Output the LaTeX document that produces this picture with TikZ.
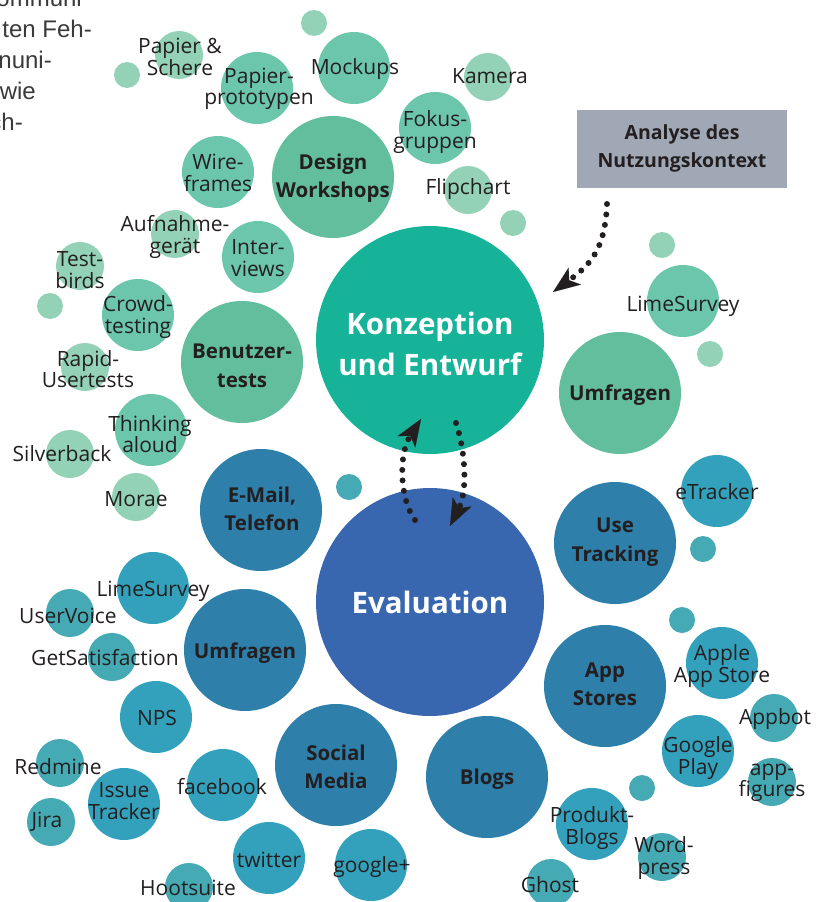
\documentclass[tikz,border=0pt]{standalone}
\usepackage{fontspec}
\setmainfont{Open Sans}
\newfontfamily\parafont{Liberation Sans}
\usetikzlibrary{arrows.meta}
\definecolor{konz}{HTML}{16B399}
\definecolor{evalc}{HTML}{3867B0}
\definecolor{gcat}{HTML}{63BE9E}
\definecolor{gmed}{HTML}{6CC6AB}
\definecolor{glight}{HTML}{93D2B6}
\definecolor{bcat}{HTML}{2E7FAA}
\definecolor{bmed}{HTML}{33A1BC}
\definecolor{blight}{HTML}{45AAB3}
\definecolor{boxgray}{HTML}{A1A8B5}
\definecolor{ink}{HTML}{231F20}
\definecolor{paragray}{HTML}{3A3A3A}
\begin{document}
\begin{tikzpicture}[x=1pt,y=-1pt,
  bub/.style={circle,inner sep=0pt,draw=none},
  catb/.style={bub,minimum size=122pt},
  medb/.style={bub,minimum size=72pt},
  smlb/.style={bub,minimum size=48pt},
  tinyb/.style={bub,minimum size=26pt},
  lbl/.style={text=ink,font=\fontsize{21}{21.5}\selectfont,align=center,inner sep=0pt},
  blbl/.style={text=ink,font=\fontsize{20.5}{28.5}\selectfont\bfseries,align=center,inner sep=0pt},
  mainlbl/.style={text=white,font=\fontsize{29.5}{41}\selectfont\bfseries,align=center,inner sep=0pt},
  para/.style={text=paragray,font=\parafont\fontsize{24}{24}\selectfont,anchor=base east,inner sep=0pt},
  dotline/.style={draw=ink,line width=6pt,line cap=round,dash pattern=on 0pt off 10.5pt},
  tipend/.style={-{Stealth[length=27pt,width=21pt,inset=7pt,line width=0.1pt,fill=ink,color=ink]}}
]
\useasboundingbox (0,0) rectangle (819,902);
\clip (0,0) rectangle (819,902);

% paragraph fragment
\node[para] (p1) at (82,6) {ommuni};
\node[para] (p2) at (92,37) {ten Feh-};
\node[para] (p3) at (52,68) {nuni-};
\node[para] (p4) at (36,99) {wie};
\node[para] (p5) at (23,130) {ch-};

% main circles
\node[bub,fill=konz,minimum size=228pt] (konz) at (430,340) {};
\node[mainlbl] (konzT) at (430,344) {Konzeption\\und Entwurf};
\node[bub,fill=evalc,minimum size=228pt] (eval) at (430,602) {};
\node[mainlbl] (evalT) at (430,602) {Evaluation};

% analysis box
\node[fill=boxgray,minimum width=210pt,minimum height=78pt,inner sep=0pt] (box) at (682,149) {};
\node[blbl,font=\fontsize{19.5}{28}\selectfont\bfseries] (boxT) at (682,148) {Analyse des\\Nutzungskontext};

% green: design workshops cluster
\node[tinyb,fill=glight] (g1) at (314,23) {};
\node[smlb,fill=glight] (papsch) at (179,55) {};
\node[lbl] (papschT) at (180,57) {Papier \&\\Schere};
\node[tinyb,fill=glight] (g2) at (127,75) {};
\node[medb,fill=gmed] (papp) at (257,88) {};
\node[lbl] (pappT) at (259,89) {Papier-\\prototypen};
\node[medb,fill=gmed] (mock) at (354,68) {};
\node[lbl] (mockT) at (355,69) {Mockups};
\node[smlb,fill=glight] (kam) at (488,77) {};
\node[lbl] (kamT) at (490,76) {Kamera};
\node[medb,fill=gmed] (fok) at (435,128) {};
\node[lbl] (fokT) at (435,132) {Fokus-\\gruppen};
\node[medb,fill=gmed] (wire) at (218,172) {};
\node[lbl] (wireT) at (218,173) {Wire-\\frames};
\node[catb,fill=gcat] (dw) at (333,177) {};
\node[blbl] (dwT) at (333,178) {Design\\Workshops};
\node[smlb,fill=glight] (flip) at (468,190) {};
\node[lbl] (flipT) at (468,189) {Flipchart};
\node[tinyb,fill=glight] (g3) at (513,223) {};

% green: benutzertests cluster
\node[smlb,fill=glight] (aufn) at (175,234) {};
\node[lbl] (aufnT) at (175,237) {Aufnahme-\\gerät};
\node[medb,fill=gmed] (intv) at (258,257) {};
\node[lbl] (intvT) at (258,258) {Inter-\\views};
\node[smlb,fill=glight] (tbird) at (80,266) {};
\node[lbl] (tbirdT) at (80,270) {Test-\\birds};
\node[tinyb,fill=glight] (g4) at (50,306) {};
\node[medb,fill=gmed] (crowd) at (138,315) {};
\node[lbl] (crowdT) at (138,317) {Crowd-\\testing};
\node[catb,fill=gcat] (bt) at (242,362) {};
\node[blbl] (btT) at (242,366) {Benutzer-\\tests};
\node[smlb,fill=glight] (rapid) at (85,367) {};
\node[lbl] (rapidT) at (88,369) {Rapid-\\Usertests};
\node[medb,fill=gmed] (think) at (151,430) {};
\node[lbl] (thinkT) at (150,434) {Thinking\\aloud};
\node[smlb,fill=glight] (silv) at (70,454) {};
\node[lbl] (silvT) at (62,454) {Silverback};
\node[smlb,fill=glight] (morae) at (136,497) {};
\node[lbl] (moraeT) at (136,499) {Morae};

% green: umfragen cluster (right)
\node[tinyb,fill=glight] (g5) at (662,245) {};
\node[medb,fill=gmed] (lime1) at (683,301) {};
\node[lbl] (lime1T) at (683,306) {LimeSurvey};
\node[tinyb,fill=glight] (g6) at (710,354) {};
\node[catb,fill=gcat] (umf1) at (620,393) {};
\node[blbl] (umf1T) at (620,395) {Umfragen};

% blue clusters
\node[tinyb,fill=blight] (b1) at (349,487) {};
\node[catb,fill=bcat] (mail) at (261,510) {};
\node[blbl] (mailT) at (262,509) {E-Mail,\\Telefon};
\node[medb,fill=bmed] (etr) at (717,491) {};
\node[lbl] (etrT) at (717,492) {eTracker};
\node[tinyb,fill=blight] (b2) at (703,549) {};
\node[catb,fill=bcat] (use) at (615,543) {};
\node[blbl] (useT) at (615,542) {Use\\Tracking};

\node[medb,fill=bmed] (lime2) at (153,588) {};
\node[lbl] (lime2T) at (153,591) {LimeSurvey};
\node[smlb,fill=blight] (uv) at (70,613) {};
\node[lbl] (uvT) at (68,616) {UserVoice};
\node[smlb,fill=blight] (gets) at (112,657) {};
\node[lbl] (getsT) at (105,658) {GetSatisfaction};
\node[catb,fill=bcat] (umf2) at (245,650) {};
\node[blbl] (umf2T) at (245,653) {Umfragen};
\node[medb,fill=bmed] (nps) at (156,717) {};
\node[lbl] (npsT) at (157,718) {NPS};

\node[tinyb,fill=blight] (b3) at (682,620) {};
\node[catb,fill=bcat] (apps) at (605,686) {};
\node[blbl] (appsT) at (605,684) {App\\Stores};
\node[medb,fill=bmed] (apple) at (722,663) {};
\node[lbl] (appleT) at (722,666) {Apple\\App Store};
\node[smlb,fill=blight] (abot) at (774,718) {};
\node[lbl] (abotT) at (775,719) {Appbot};
\node[medb,fill=bmed] (gplay) at (698,751) {};
\node[lbl] (gplayT) at (698,758) {Google\\Play};
\node[smlb,fill=blight] (afig) at (772,782) {};
\node[lbl] (afigT) at (772,783) {app-\\figures};
\node[tinyb,fill=blight] (b4) at (642,788) {};

\node[smlb,fill=blight] (redm) at (60,763) {};
\node[lbl] (redmT) at (58,767) {Redmine};
\node[medb,fill=bmed] (issue) at (124,804) {};
\node[lbl] (issueT) at (124,801) {Issue\\Tracker};
\node[smlb,fill=blight] (jira) at (51,822) {};
\node[lbl] (jiraT) at (47,822) {Jira};
\node[medb,fill=bmed] (fb) at (223,785) {};
\node[lbl] (fbT) at (222,787) {facebook};
\node[catb,fill=bcat] (soc) at (336,765) {};
\node[blbl] (socT) at (336,767) {Social\\Media};
\node[catb,fill=bcat] (blogs) at (487,777) {};
\node[blbl] (blogsT) at (487,779) {Blogs};
\node[medb,fill=bmed] (pblog) at (592,824) {};
\node[lbl] (pblogT) at (592,828) {Produkt-\\Blogs};
\node[smlb,fill=blight] (wp) at (662,857) {};
\node[lbl] (wpT) at (664,858) {Word-\\press};
\node[medb,fill=bmed] (tw) at (269,858) {};
\node[lbl] (twT) at (269,860) {twitter};
\node[medb,fill=bmed] (gplus) at (371,865) {};
\node[lbl] (gplusT) at (372,867) {google+};
\node[smlb,fill=blight] (hoot) at (189,887) {};
\node[lbl] (hootT) at (188,888) {Hootsuite};
\node[smlb,fill=blight] (ghost) at (551,883) {};
\node[lbl] (ghostT) at (550,885) {Ghost};

% dotted arrows
\coordinate (a1s) at (607,204);
\coordinate (a1e) at (553,292);
\draw[dotline,tipend] (a1s) .. controls (605,250) and (590,265) .. (a1e);
\coordinate (a2s) at (415,520);
\coordinate (a2e) at (421,419);
\draw[dotline,tipend] (a2s) .. controls (400,500) and (398,455) .. (a2e);
\coordinate (a3s) at (456,423);
\coordinate (a3e) at (450,526);
\draw[dotline,tipend] (a3s) .. controls (465,450) and (468,490) .. (a3e);
\end{tikzpicture}
\end{document}
